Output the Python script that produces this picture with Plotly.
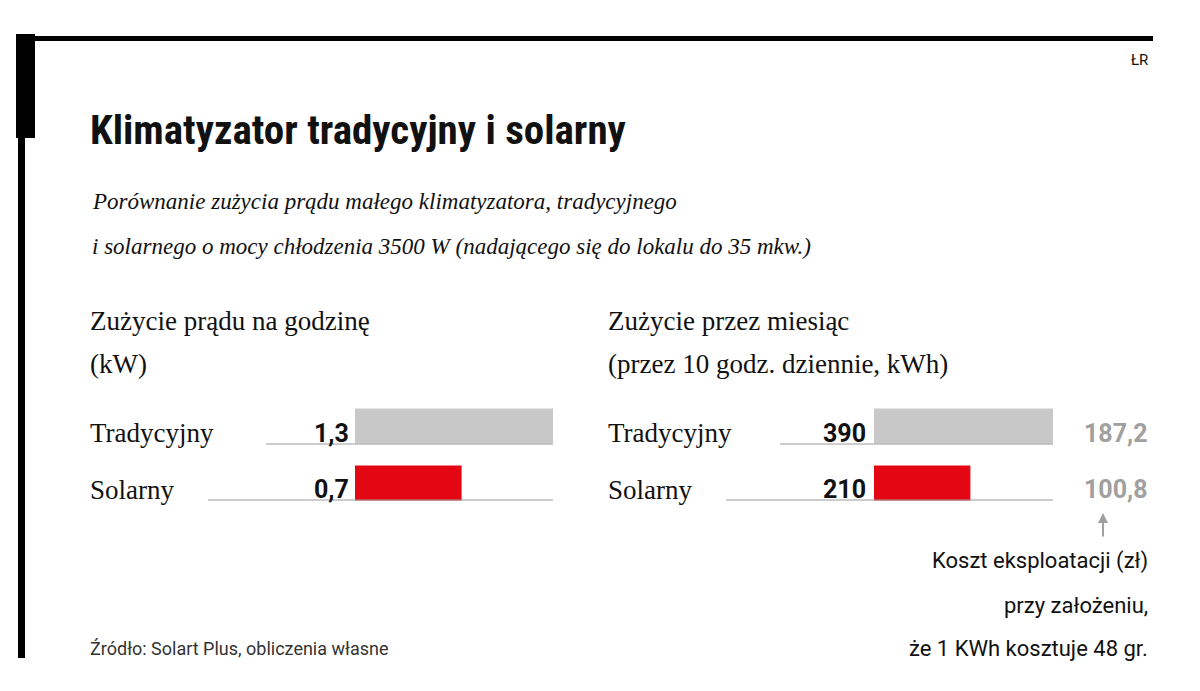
import plotly.graph_objects as go

W, H = 1200, 691
categories = ["Solarny", "Tradycyjny"]
hourly_kw = [0.7, 1.3]
monthly_kwh = [210, 390]
cost_zl = ["100,8", "187,2"]
hourly_labels = ["0,7", "1,3"]
monthly_labels = ["210", "390"]
colors = ["#e30613", "#c8c8c8"]

def px(x): return x / W
def py(y): return 1 - y / H

fig = go.Figure()
fig.add_trace(go.Bar(x=hourly_kw, y=[0, 1], orientation="h", width=0.61,
                     marker=dict(color=colors, line=dict(width=0)), xaxis="x", yaxis="y", hoverinfo="skip"))
fig.add_trace(go.Bar(x=monthly_kwh, y=[0, 1], orientation="h", width=0.61,
                     marker=dict(color=colors, line=dict(width=0)), xaxis="x2", yaxis="y", hoverinfo="skip"))

ydom = [py(503.5), py(389.5)]
ax = dict(showgrid=False, zeroline=False, showticklabels=False, showline=False, fixedrange=True)
fig.update_layout(
    width=W, height=H, margin=dict(l=0, r=0, t=0, b=0),
    paper_bgcolor="white", plot_bgcolor="rgba(0,0,0,0)", showlegend=False,
    xaxis=dict(domain=[px(347), px(545)], range=[0, 1.3], **ax),
    xaxis2=dict(domain=[px(866), px(1045)], range=[0, 390], anchor="y", **ax),
    yaxis=dict(domain=ydom, range=[-0.5, 1.5], **ax),
)

shapes = []
shapes.append(dict(type="rect", xref="paper", yref="paper", x0=px(10), x1=px(1145), y0=py(33), y1=py(28),
                   fillcolor="black", line=dict(width=0)))
shapes.append(dict(type="rect", xref="paper", yref="paper", x0=px(10), x1=px(17), y0=py(650), y1=py(28),
                   fillcolor="black", line=dict(width=0)))
shapes.append(dict(type="rect", xref="paper", yref="paper", x0=px(8), x1=px(27), y0=py(130), y1=py(26),
                   fillcolor="black", line=dict(width=0)))
for x0, x1, y in [(258, 545, 436), (200, 545, 492), (772, 1045, 436), (718, 1045, 492)]:
    shapes.append(dict(type="line", xref="paper", yref="paper", x0=px(x0), x1=px(x1), y0=py(y), y1=py(y),
                       line=dict(color="#9a9a9a", width=1)))
fig.update_layout(shapes=shapes)

ann = []
def t(x, y, s, size, family="Roboto", color="#111", xa="left", ya="middle"):
    ann.append(dict(xref="paper", yref="paper", x=px(x), y=py(y), text=s, showarrow=False,
                    xanchor=xa, yanchor=ya, font=dict(size=size, family=family, color=color)))

t(1142, 52, "ŁR", 15, xa="right")
t(80, 122, "<b>Klimatyzator tradycyjny i solarny</b>", 41, family="Roboto Condensed, Roboto")
t(82, 193, "<i>Porównanie zużycia prądu małego klimatyzatora, tradycyjnego</i>", 23, family="Liberation Serif")
t(82, 238, "<i>i solarnego o mocy chłodzenia 3500 W (nadającego się do lokalu do 35 mkw.)</i>", 23, family="Liberation Serif")
t(80, 313, "Zużycie prądu na godzinę", 27, family="Liberation Serif")
t(80, 356, "(kW)", 27, family="Liberation Serif")
t(598, 313, "Zużycie przez miesiąc", 27, family="Liberation Serif")
t(598, 356, "(przez 10 godz. dziennie, kWh)", 27, family="Liberation Serif")
ys = [482, 425]
for i in range(2):
    t(80, ys[i], categories[i], 27, family="Liberation Serif")
    t(598, ys[i], categories[i], 27, family="Liberation Serif")
    t(343, ys[i], "<b>" + hourly_labels[i] + "</b>", 25, xa="right")
    t(860, ys[i], "<b>" + monthly_labels[i] + "</b>", 25, xa="right")
    t(1142, ys[i], "<b>" + cost_zl[i] + "</b>", 25, color="#a0a0a0", xa="right")
t(1142, 553, "Koszt eksploatacji (zł)", 22, xa="right")
t(1142, 597, "przy założeniu,", 22, xa="right")
t(1142, 640, "że 1 KWh kosztuje 48 gr.", 22, xa="right")
t(80, 640, "Źródło: Solart Plus, obliczenia własne", 18, color="#333")
ann.append(dict(xref="paper", yref="paper", x=px(1095), y=py(505), ax=0, ay=25,
                axref="pixel", ayref="pixel", text="", showarrow=True, arrowhead=2, arrowsize=1,
                arrowwidth=2, arrowcolor="#a0a0a0"))
fig.update_layout(annotations=ann)

fig.write_html("out.html")
